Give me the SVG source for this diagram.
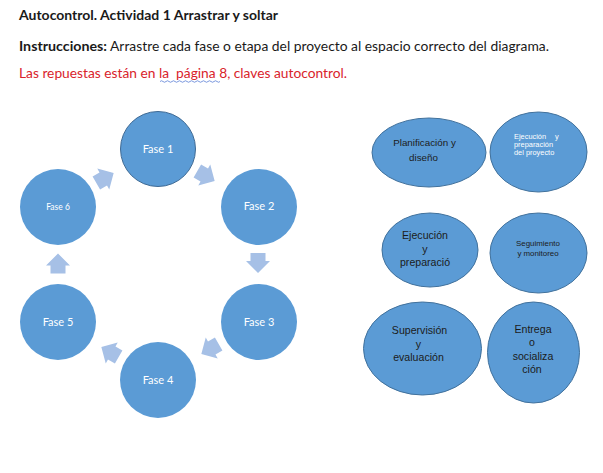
<svg xmlns="http://www.w3.org/2000/svg" width="603" height="473" viewBox="0 0 603 473">
<defs>
<style>
.hdr{font-family:Lato,"Liberation Sans",sans-serif;font-size:13.5px;fill:#1a1a1a}
.b{font-weight:bold}
.red{fill:#d9232b;white-space:pre}
.phase{fill:#5b9bd5}
.ptxt{font-family:Lato,"Liberation Sans",sans-serif;font-size:11px;fill:#ffffff;text-anchor:middle}
.ell{fill:#5b9bd5;stroke:#41719c;stroke-width:1}
.etxt{font-family:"Liberation Sans",Arial,sans-serif;fill:#1b1b1b;text-anchor:middle}
.arrow{fill:#a6c0e6}
</style>
<path id="blk" d="M-10,-7.5 H-2 V-12 L10,0 L-2,12 V7.5 H-10 Z"/>
</defs>
<rect width="603" height="473" fill="#ffffff"/>
<g id="header">
<text class="hdr b" x="19" y="20" textLength="259" lengthAdjust="spacingAndGlyphs">Autocontrol. Actividad 1 Arrastrar y soltar</text>
<text class="hdr" x="19" y="51"><tspan class="b" textLength="88" lengthAdjust="spacingAndGlyphs">Instrucciones:</tspan><tspan x="110" textLength="439" lengthAdjust="spacingAndGlyphs">Arrastre cada fase o etapa del proyecto al espacio correcto del diagrama.</tspan></text>
<text class="hdr red" x="19" y="78" textLength="328" lengthAdjust="spacingAndGlyphs">Las repuestas están en la  página 8, claves autocontrol.</text>
<path d="M160,81.5 q1.5,-1.5 3,0 t3,0 t3,0 t3,0 t3,0 t3,0 t3,0 t3,0 t3,0 t3,0 t3,0 t3,0 t3,0 t3,0 t3,0 t3,0 t3,0 t3,0 t3,0 t3,0" fill="none" stroke="#5a7fd6" stroke-width="0.8"/>
</g>
<g id="connectors">
<use href="#blk" class="arrow" transform="translate(206,176) rotate(30)"/>
<use href="#blk" class="arrow" transform="translate(258,263) rotate(90)"/>
<use href="#blk" class="arrow" transform="translate(210,349) rotate(150)"/>
<use href="#blk" class="arrow" transform="translate(110,352) rotate(210)"/>
<use href="#blk" class="arrow" transform="translate(58,263.5) rotate(-90)"/>
<use href="#blk" class="arrow" transform="translate(105,178) rotate(-30)"/>
</g>
<g id="fase1"><circle class="phase" cx="158" cy="149" r="37.5" stroke="#3f6a94" stroke-width="1"/><text class="ptxt" x="158" y="152.5">Fase 1</text></g>
<g id="fase2"><circle class="phase" cx="259" cy="207" r="38"/><text class="ptxt" x="259" y="210">Fase 2</text></g>
<g id="fase3"><circle class="phase" cx="259" cy="322" r="38"/><text class="ptxt" x="259" y="325.5">Fase 3</text></g>
<g id="fase4"><circle class="phase" cx="158" cy="380" r="38"/><text class="ptxt" x="158" y="383.5">Fase 4</text></g>
<g id="fase5"><circle class="phase" cx="58" cy="322" r="38"/><text class="ptxt" x="58" y="325.5">Fase 5</text></g>
<g id="fase6"><circle class="phase" cx="58" cy="207" r="38"/><text class="ptxt" x="58" y="209.5" style="font-size:8.5px">Fase 6</text></g>
<g id="opt-planificacion"><ellipse class="ell" cx="429" cy="152.5" rx="57" ry="34.5"/>
<text class="etxt" style="font-size:9.8px"><tspan x="424.5" y="146">Planificación y</tspan><tspan x="423.5" y="161">diseño</tspan></text></g>
<g id="opt-ejecucion-proyecto"><ellipse class="ell" cx="538.5" cy="152" rx="48.5" ry="40"/>
<text class="etxt" style="font-size:7.4px;fill:#ffffff;text-anchor:start"><tspan x="514" y="139">Ejecución</tspan><tspan x="555" y="139">y</tspan><tspan x="514" y="146.5">preparación</tspan><tspan x="514" y="154.5">del proyecto</tspan></text></g>
<g id="opt-ejecucion"><ellipse class="ell" cx="430" cy="250" rx="48" ry="37"/>
<text class="etxt" style="font-size:10.6px"><tspan x="425" y="239">Ejecución</tspan><tspan x="425" y="252.5">y</tspan><tspan x="425" y="266">preparació</tspan></text></g>
<g id="opt-seguimiento"><ellipse class="ell" cx="538.5" cy="253" rx="48.5" ry="40"/>
<text class="etxt" style="font-size:7.9px"><tspan x="538" y="246">Seguimiento</tspan><tspan x="538" y="256">y monitoreo</tspan></text></g>
<g id="opt-supervision"><ellipse class="ell" cx="422.5" cy="348.5" rx="59" ry="46.5"/>
<text class="etxt" style="font-size:10.6px"><tspan x="419.5" y="334">Supervisión</tspan><tspan x="418.5" y="347.5">y</tspan><tspan x="418.5" y="361">evaluación</tspan></text></g>
<g id="opt-entrega"><ellipse class="ell" cx="533.5" cy="352.5" rx="46" ry="50.5"/>
<text class="etxt" style="font-size:10.6px"><tspan x="533" y="333">Entrega</tspan><tspan x="532" y="346">o</tspan><tspan x="533" y="359.5">socializa</tspan><tspan x="532" y="372.5">ción</tspan></text></g>
</svg>
